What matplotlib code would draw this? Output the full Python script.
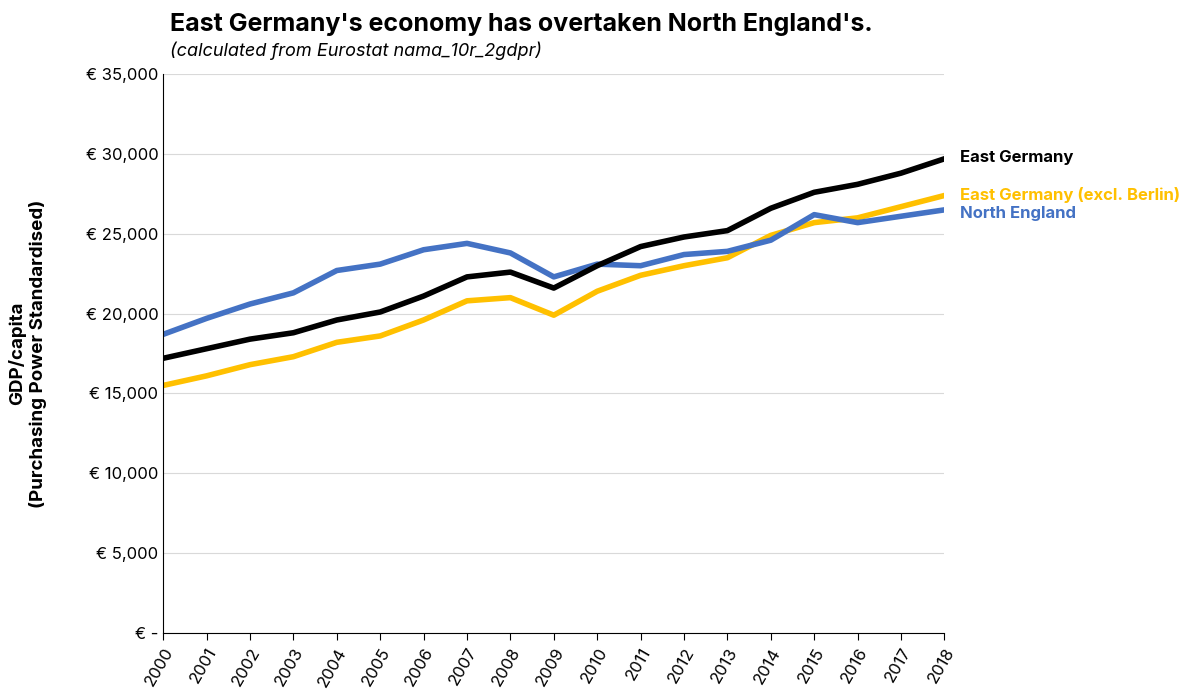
import matplotlib
matplotlib.use("Agg")
import matplotlib.pyplot as plt
from matplotlib.ticker import FuncFormatter

years = list(range(2000, 2019))
east_germany = [17.2, 17.8, 18.4, 18.8, 19.6, 20.1, 21.1, 22.3, 22.6, 21.6, 23.0, 24.2, 24.8, 25.2, 26.6, 27.6, 28.1, 28.8, 29.7]
east_excl_berlin = [15.5, 16.1, 16.8, 17.3, 18.2, 18.6, 19.6, 20.8, 21.0, 19.9, 21.4, 22.4, 23.0, 23.5, 24.9, 25.7, 26.0, 26.7, 27.4]
north_england = [18.7, 19.7, 20.6, 21.3, 22.7, 23.1, 24.0, 24.4, 23.8, 22.3, 23.1, 23.0, 23.7, 23.9, 24.6, 26.2, 25.7, 26.1, 26.5]
east_germany = [v * 1000 for v in east_germany]
east_excl_berlin = [v * 1000 for v in east_excl_berlin]
north_england = [v * 1000 for v in north_england]

plt.rcParams['font.family'] = ['Inter', 'DejaVu Sans']
fig = plt.figure(figsize=(12, 7), dpi=100)
ax = fig.add_axes([0.136, 0.096, 0.651, 0.798])

c_black, c_gold, c_blue = '#000000', '#FFC000', '#4472C4'
ax.plot(years, east_excl_berlin, color=c_gold, lw=4)
ax.plot(years, north_england, color=c_blue, lw=4)
ax.plot(years, east_germany, color=c_black, lw=4)

ax.set_xlim(2000, 2018)
ax.set_ylim(0, 35000)
ax.set_yticks(range(0, 35001, 5000))
ax.yaxis.set_major_formatter(FuncFormatter(lambda v, p: '€ -' if v == 0 else f'€ {int(v):,}'))
ax.set_xticks(years)
ax.set_xticklabels([str(y) for y in years], rotation=60, ha='right', rotation_mode='anchor')
ax.tick_params(axis='both', labelsize=12, length=0)
ax.tick_params(axis='x', length=5, direction='out', pad=4)
ax.grid(axis='y', color='#d9d9d9', lw=0.8)
ax.set_axisbelow(True)
for s in ['top', 'right']:
    ax.spines[s].set_visible(False)

ax.set_ylabel('GDP/capita\n(Purchasing Power Standardised)', fontsize=13.5, fontweight='bold', labelpad=28)

ax.text(2018.35, 29800, 'East Germany', color=c_black, fontsize=12, fontweight='bold', va='center')
ax.text(2018.35, 27400, 'East Germany (excl. Berlin)', color=c_gold, fontsize=12, fontweight='bold', va='center')
ax.text(2018.35, 26300, 'North England', color=c_blue, fontsize=12, fontweight='bold', va='center')

fig.text(0.142, 0.965, "East Germany's economy has overtaken North England's.", fontsize=18, fontweight='bold', va='center')
fig.text(0.142, 0.927, "(calculated from Eurostat nama_10r_2gdpr)", fontsize=13, style='italic', va='center')

fig.savefig('out.png', dpi=100)
